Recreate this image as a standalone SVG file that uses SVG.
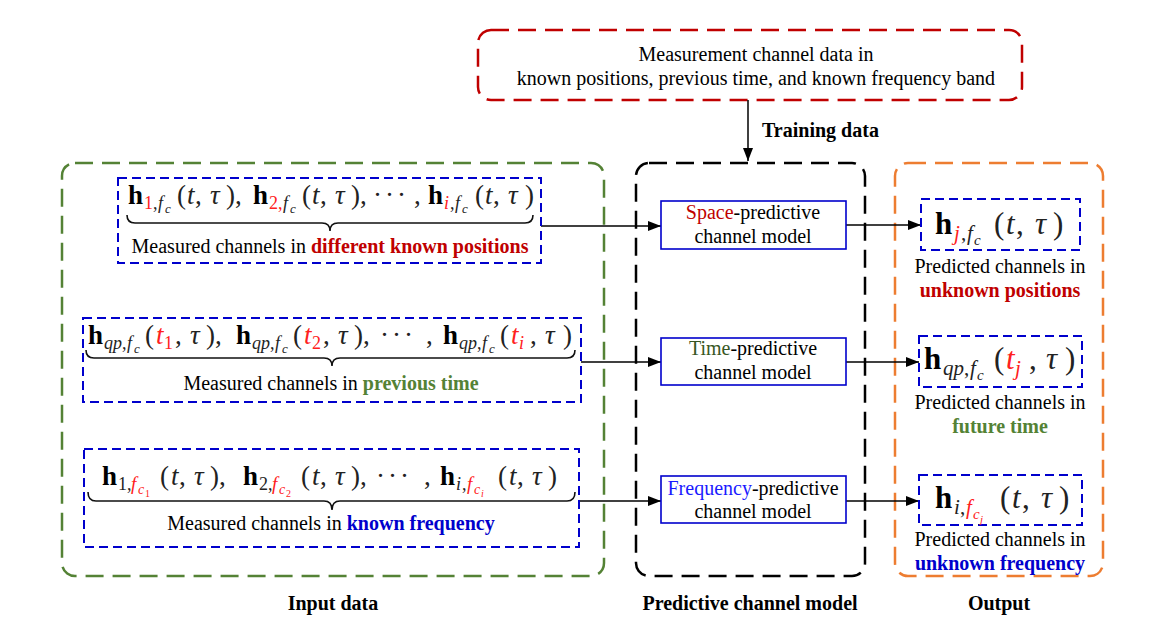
<svg xmlns="http://www.w3.org/2000/svg" width="1149" height="627" viewBox="0 0 1149 627">
<style>
.t{font-family:"Liberation Serif","Times New Roman","DejaVu Serif",serif;font-size:20px;fill:#000}
.bold{font-weight:bold}
.mid{text-anchor:middle}
.m{font-family:"Liberation Serif","Times New Roman","DejaVu Serif",serif;font-size:27px;fill:#222}
.mo{font-family:"Liberation Serif","Times New Roman","DejaVu Serif",serif;font-size:31px;fill:#222}
.s{font-size:18px}
.ss{font-size:13px}
.so{font-size:21px}
.sso{font-size:15px}
.hb{font-weight:bold;fill:#000}
.i{font-style:italic}
.r{fill:#ff2020}
.dk{fill:#c00000}
.gr{fill:#548235}
.bl{fill:#0000cc}
.frame{fill:none;stroke-width:2.5;stroke-dasharray:18 9}
.dbox{fill:#fff;stroke:#0000cc;stroke-width:2;stroke-dasharray:9 5}
.mbox{fill:#fff;stroke:#0000cc;stroke-width:1.6}
.brace{fill:none;stroke:#111;stroke-width:1.6}
.conn{fill:none;stroke:#000;stroke-width:1.5;marker-end:url(#arr)}
</style>
<defs>
<marker id="arr" markerUnits="userSpaceOnUse" markerWidth="13" markerHeight="10" refX="13" refY="5" orient="auto">
<path d="M0,0 L13,5 L0,10 z" fill="#000"/>
</marker>
</defs>
<rect width="1149" height="627" fill="#fff"/>

<g id="training-source">
<rect x="478" y="30" width="544" height="70" rx="13" class="frame" stroke="#c00000"/>
<text class="t mid" x="756" y="61">Measurement channel data in</text>
<text class="t mid" x="756" y="85">known positions, previous time, and known frequency band</text>
</g>

<g id="input-data">
<rect x="62" y="163" width="542" height="413" rx="13" class="frame" stroke="#548235"/>
<text class="t bold mid" x="333" y="610">Input data</text>
</g>
<g id="predictive-model">
<rect x="636" y="163" width="229" height="413" rx="13" class="frame" stroke="#000"/>
<text class="t bold mid" x="750" y="610">Predictive channel model</text>
</g>
<g id="output">
<rect x="895" y="163" width="208" height="413" rx="13" class="frame" stroke="#ed7d31"/>
<text class="t bold mid" x="999" y="610">Output</text>
</g>

<g id="connectors">
<line class="conn" x1="748" y1="100" x2="748" y2="161"/>
<text class="t bold" x="762" y="137">Training data</text>
<line class="conn" x1="541" y1="226" x2="661" y2="226"/>
<line class="conn" x1="846" y1="225" x2="921" y2="225"/>
<line class="conn" x1="581" y1="362" x2="661" y2="362"/>
<line class="conn" x1="846" y1="362" x2="919" y2="362"/>
<line class="conn" x1="579" y1="501" x2="661" y2="501"/>
<line class="conn" x1="846" y1="501" x2="919" y2="501"/>
</g>

<g id="input-space">
<rect x="118" y="178" width="423" height="85" class="dbox"/>
<text class="m">
<tspan class="hb" x="128" y="204">h</tspan><tspan class="r s" x="144" y="209">1</tspan><tspan class="s" x="153" y="209">,</tspan><tspan class="i s" x="158" y="209">f</tspan><tspan class="i ss" x="165" y="213">c</tspan><tspan x="177" y="204">(</tspan><tspan class="i" x="187" y="204">t</tspan><tspan x="195" y="204">,</tspan><tspan class="i" x="210" y="204">τ</tspan><tspan x="226" y="204">),</tspan>
<tspan class="hb" x="253" y="204">h</tspan><tspan class="r s" x="269" y="209">2,</tspan><tspan class="i s" x="283" y="209">f</tspan><tspan class="i ss" x="290" y="213">c</tspan><tspan x="302" y="204">(</tspan><tspan class="i" x="312" y="204">t</tspan><tspan x="320" y="204">,</tspan><tspan class="i" x="335" y="204">τ</tspan><tspan x="351" y="204">),</tspan>
<tspan x="373" y="204">·</tspan><tspan x="385" y="204">·</tspan><tspan x="397" y="204">·</tspan><tspan x="414" y="204">,</tspan>
<tspan class="hb" x="428" y="204">h</tspan><tspan class="r i s" x="444" y="209">i</tspan><tspan class="s" x="450" y="209">,</tspan><tspan class="i s" x="455" y="209">f</tspan><tspan class="i ss" x="462" y="213">c</tspan><tspan x="475" y="204">(</tspan><tspan class="i" x="485" y="204">t</tspan><tspan x="493" y="204">,</tspan><tspan class="i" x="508" y="204">τ</tspan><tspan x="525" y="204">)</tspan>
</text>
<path class="brace" d="M127,215 q0,8 8,8 H322 q8,0 8,8 q0,-8 8,-8 H525 q8,0 8,-8"/>
<text class="t mid" x="330" y="253">Measured channels in <tspan class="bold dk">different known positions</tspan></text>
</g>

<g id="input-time">
<rect x="83" y="318" width="498" height="84" class="dbox"/>
<text class="m">
<tspan class="hb" x="88" y="344">h</tspan><tspan class="i s" x="104" y="349">qp</tspan><tspan class="s" x="122" y="349">,</tspan><tspan class="i s" x="127" y="349">f</tspan><tspan class="i ss" x="134" y="353">c</tspan><tspan x="145" y="344">(</tspan><tspan class="i r" x="156" y="344">t</tspan><tspan class="r s" x="164" y="349">1</tspan><tspan x="175" y="344">,</tspan><tspan class="i" x="190" y="344">τ</tspan><tspan x="206" y="344">),</tspan>
<tspan class="hb" x="236" y="344">h</tspan><tspan class="i s" x="252" y="349">qp</tspan><tspan class="s" x="270" y="349">,</tspan><tspan class="i s" x="275" y="349">f</tspan><tspan class="i ss" x="282" y="353">c</tspan><tspan x="293" y="344">(</tspan><tspan class="i r" x="304" y="344">t</tspan><tspan class="r s" x="312" y="349">2</tspan><tspan x="323" y="344">,</tspan><tspan class="i" x="338" y="344">τ</tspan><tspan x="354" y="344">),</tspan>
<tspan x="380" y="344">·</tspan><tspan x="392" y="344">·</tspan><tspan x="404" y="344">·</tspan><tspan x="426" y="344">,</tspan>
<tspan class="hb" x="443" y="344">h</tspan><tspan class="i s" x="459" y="349">qp</tspan><tspan class="s" x="477" y="349">,</tspan><tspan class="i s" x="482" y="349">f</tspan><tspan class="i ss" x="489" y="353">c</tspan><tspan x="500" y="344">(</tspan><tspan class="i r" x="511" y="344">t</tspan><tspan class="i r s" x="519" y="349">i</tspan><tspan x="530" y="344">,</tspan><tspan class="i" x="545" y="344">τ</tspan><tspan x="563" y="344">)</tspan>
</text>
<path class="brace" d="M86,350 q0,8 8,8 H324 q8,0 8,8 q0,-8 8,-8 H567 q8,0 8,-8"/>
<text class="t mid" x="331" y="390">Measured channels in <tspan class="bold gr">previous time</tspan></text>
</g>

<g id="input-frequency">
<rect x="84" y="449" width="495" height="98" class="dbox"/>
<text class="m">
<tspan class="hb" x="102" y="485">h</tspan><tspan class="s" x="118" y="490">1,</tspan><tspan class="i r" x="131" y="490" font-size="19">f</tspan><tspan class="i r" x="138" y="494" font-size="14">c</tspan><tspan class="r" x="145" y="497" font-size="10">1</tspan><tspan x="160" y="485">(</tspan><tspan class="i" x="171" y="485">t</tspan><tspan x="179" y="485">,</tspan><tspan class="i" x="194" y="485">τ</tspan><tspan x="210" y="485">),</tspan>
<tspan class="hb" x="243" y="485">h</tspan><tspan class="s" x="259" y="490">2,</tspan><tspan class="i r" x="272" y="490" font-size="19">f</tspan><tspan class="i r" x="279" y="494" font-size="14">c</tspan><tspan class="r" x="286" y="497" font-size="10">2</tspan><tspan x="301" y="485">(</tspan><tspan class="i" x="312" y="485">t</tspan><tspan x="320" y="485">,</tspan><tspan class="i" x="335" y="485">τ</tspan><tspan x="351" y="485">),</tspan>
<tspan x="376" y="485">·</tspan><tspan x="388" y="485">·</tspan><tspan x="400" y="485">·</tspan><tspan x="424" y="485">,</tspan>
<tspan class="hb" x="440" y="485">h</tspan><tspan class="i s" x="456" y="490">i</tspan><tspan class="s" x="462" y="490">,</tspan><tspan class="i r" x="467" y="490" font-size="19">f</tspan><tspan class="i r" x="474" y="494" font-size="14">c</tspan><tspan class="i r" x="481" y="497" font-size="10">i</tspan><tspan x="498" y="485">(</tspan><tspan class="i" x="509" y="485">t</tspan><tspan x="517" y="485">,</tspan><tspan class="i" x="532" y="485">τ</tspan><tspan x="548" y="485">)</tspan>
</text>
<path class="brace" d="M88,492 q0,9 8,9 H324 q8,0 8,9 q0,-9 8,-9 H567 q8,0 8,-9"/>
<text class="t mid" x="331" y="530">Measured channels in <tspan class="bold bl">known frequency</tspan></text>
</g>

<g id="space-model">
<rect x="661" y="201" width="185" height="48" class="mbox"/>
<text class="t mid" x="753" y="219"><tspan fill="#c00000">Space</tspan>-predictive</text>
<text class="t mid" x="753" y="243">channel model</text>
</g>
<g id="time-model">
<rect x="661" y="338" width="185" height="47" class="mbox"/>
<text class="t mid" x="753" y="355"><tspan fill="#375623">Time</tspan>-predictive</text>
<text class="t mid" x="753" y="379">channel model</text>
</g>
<g id="frequency-model">
<rect x="661" y="476" width="185" height="47" class="mbox"/>
<text class="t mid" x="753" y="495"><tspan fill="#1a1aff">Frequency</tspan>-predictive</text>
<text class="t mid" x="753" y="518">channel model</text>
</g>

<g id="output-space">
<rect x="921" y="199" width="159" height="51" class="dbox"/>
<text class="mo">
<tspan class="hb" x="935" y="234">h</tspan><tspan class="i r so" x="954" y="240">j</tspan><tspan class="so" x="961" y="240">,</tspan><tspan class="i so" x="967" y="240">f</tspan><tspan class="i sso" x="974" y="245">c</tspan><tspan x="994" y="234">(</tspan><tspan class="i" x="1006" y="234">t</tspan><tspan x="1016" y="234">,</tspan><tspan class="i" x="1035" y="234">τ</tspan><tspan x="1053" y="234">)</tspan>
</text>
<text class="t mid" x="1000" y="273">Predicted channels in</text>
<text class="t bold mid dk" x="1000" y="297">unknown positions</text>
</g>
<g id="output-time">
<rect x="919" y="336" width="163" height="51" class="dbox"/>
<text class="mo">
<tspan class="hb" x="924" y="369">h</tspan><tspan class="i so" x="943" y="375">qp</tspan><tspan class="so" x="964" y="375">,</tspan><tspan class="i so" x="970" y="375">f</tspan><tspan class="i sso" x="977" y="380">c</tspan><tspan x="994" y="369">(</tspan><tspan class="i r" x="1006" y="369">t</tspan><tspan class="i r so" x="1015" y="375">j</tspan><tspan x="1029" y="369">,</tspan><tspan class="i" x="1046" y="369">τ</tspan><tspan x="1065" y="369">)</tspan>
</text>
<text class="t mid" x="1000" y="409">Predicted channels in</text>
<text class="t bold mid gr" x="1000" y="433">future time</text>
</g>
<g id="output-frequency">
<rect x="919" y="475" width="163" height="50" class="dbox"/>
<text class="mo">
<tspan class="hb" x="935" y="508">h</tspan><tspan class="i so" x="954" y="514">i</tspan><tspan class="so" x="960" y="514">,</tspan><tspan class="i r so" x="966" y="514">f</tspan><tspan class="i r sso" x="973" y="519">c</tspan><tspan class="i r" x="980" y="523" font-size="11">j</tspan><tspan x="1000" y="508">(</tspan><tspan class="i" x="1012" y="508">t</tspan><tspan x="1022" y="508">,</tspan><tspan class="i" x="1041" y="508">τ</tspan><tspan x="1059" y="508">)</tspan>
</text>
<text class="t mid" x="1000" y="546">Predicted channels in</text>
<text class="t bold mid bl" x="1000" y="570">unknown frequency</text>
</g>
</svg>
